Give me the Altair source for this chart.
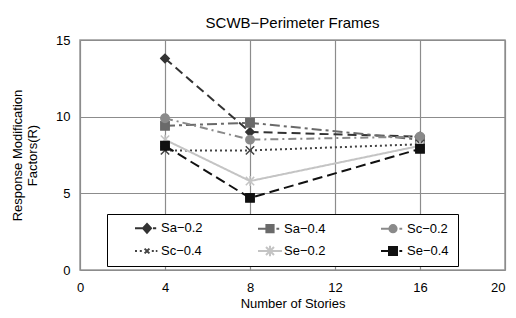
import altair as alt
import pandas as pd

stories = [4, 8, 16]
series_names = ["Sa−0.2", "Sa−0.4", "Sc−0.2", "Sc−0.4", "Se−0.2", "Se−0.4"]
sa02 = [13.8, 9.0, 8.7]
sa04 = [9.4, 9.6, 8.5]
sc02 = [9.9, 8.5, 8.7]
sc04 = [7.8, 7.8, 8.2]
se02 = [8.5, 5.8, 8.1]
se04 = [8.1, 4.7, 7.9]
values = [sa02, sa04, sc02, sc04, se02, se04]

colors = ["#333333", "#6a6a6a", "#8a8a8a", "#444444", "#c4c4c4", "#111111"]
dashes = [[9, 5], [10, 4, 3, 4], [8, 4, 2, 4], [2, 3], [1, 0], [10, 5]]
shapes = ["diamond", "square", "circle",
          "M-1,-1L1,1M1,-1L-1,1",
          "M-1,-1L1,1M1,-1L-1,1M0,-1.2L0,1.2",
          "square"]
legend_shapes = [
    "M-1.5,0L-0.4,0M0,-0.55L0.5,0L0,0.55L-0.5,0ZM0.75,0L1.15,0",
    "M-1.5,0L-0.5,0M-0.45,-0.45L0.45,-0.45L0.45,0.45L-0.45,0.45ZM0.8,0L1.15,0",
    "M-1.5,0L-0.5,0M0.45,0A0.45,0.45 0 1,1 -0.45,0A0.45,0.45 0 1,1 0.45,0ZM0.8,0L1.15,0",
    "M-1.5,0L-1.25,0M-0.9,0L-0.65,0M-0.3,-0.3L0.3,0.3M0.3,-0.3L-0.3,0.3M0.6,0L0.85,0M1.1,0L1.3,0",
    "M-1.5,0L1.5,0M-0.5,-0.5L0.5,0.5M0.5,-0.5L-0.5,0.5M0,-0.65L0,0.65",
    "M-1.5,0L-0.5,0M-0.5,-0.5L0.5,-0.5L0.5,0.5L-0.5,0.5ZM0.8,0L1.15,0",
]

rows = []
for name, vals in zip(series_names, values):
    for s, v in zip(stories, vals):
        rows.append({"series": name, "stories": s, "R": v})
df = pd.DataFrame(rows)

x = alt.X("stories:Q", title="Number of Stories",
          scale=alt.Scale(domain=[0, 20]),
          axis=alt.Axis(values=[0, 4, 8, 12, 16, 20], labelPadding=11, titlePadding=3,
                        labelAlign={"expr": "datum.value == 20 ? 'right' : 'center'"}))
y = alt.Y("R:Q", title=["Response Modification", "Factors(R)"],
          scale=alt.Scale(domain=[0, 15]),
          axis=alt.Axis(values=[0, 5, 10, 15], labelPadding=10, titlePadding=16))

cscale = alt.Scale(domain=series_names, range=colors)

lines = alt.Chart(df).mark_line(strokeWidth=2).encode(
    x=x, y=y,
    stroke=alt.Stroke("series:N", scale=cscale, legend=None),
    strokeDash=alt.StrokeDash("series:N",
                              scale=alt.Scale(domain=series_names, range=dashes),
                              legend=None),
)
points = alt.Chart(df).mark_point(filled=False, size=70, strokeWidth=1.5, opacity=1).encode(
    x=x, y=y,
    fill=alt.Fill("series:N", scale=cscale, legend=None),
    stroke=alt.Stroke("series:N", scale=cscale, legend=None),
    shape=alt.Shape("series:N", scale=alt.Scale(domain=series_names, range=shapes),
                    legend=None),
)

legend = alt.Legend(title="\u00a0\u00a0\u00a0\u00a0", titleOrient="right", titlePadding=4,
                    titleFontSize=13,
                    orient="none", legendX=27, legendY=174,
                    direction="horizontal",
                    columns=3, columnPadding=32, rowPadding=4,
                    padding=5, strokeColor="black", fillColor="white",
                    symbolSize=256, symbolOffset=26, labelOffset=5,
                    labelFontSize=13, symbolStrokeWidth=2, labelLimit=300)

legend_layer = alt.Chart(df).transform_filter("false").mark_point(
    filled=False, size=256, strokeWidth=2, opacity=1).encode(
    x=x, y=y,
    fill=alt.Fill("series:N", scale=cscale, legend=legend),
    stroke=alt.Stroke("series:N", scale=cscale, legend=legend),
    shape=alt.Shape("series:N",
                    scale=alt.Scale(domain=series_names, range=legend_shapes),
                    legend=legend),
)

chart = alt.layer(lines, points, legend_layer).resolve_scale(
    fill="independent", stroke="independent", shape="independent",
    strokeDash="independent",
).resolve_legend(
    fill="independent", stroke="independent", shape="independent",
).properties(
    width=425, height=230,
    title=alt.TitleParams("SCWB−Perimeter Frames", fontSize=15, font="Liberation Sans",
                          fontWeight="normal", offset=3),
    autosize=alt.AutoSizeParams(type="none"),
    padding={"left": 72, "top": 32, "right": 3, "bottom": 40},
).configure_view(stroke="#999999", strokeWidth=1.5).configure_axis(
    grid=True, gridColor="#8c8c8c", gridWidth=1.2, domain=False, ticks=False,
    labelFont="Liberation Sans", titleFont="Liberation Sans",
    labelFontSize=13, titleFontSize=13, titleFontWeight="normal",
    labelColor="black", titleColor="black",
).configure_legend(labelFont="Liberation Sans", titleFont="Liberation Sans")

chart.save("out.html", embed_options={"renderer": "svg", "actions": False})
